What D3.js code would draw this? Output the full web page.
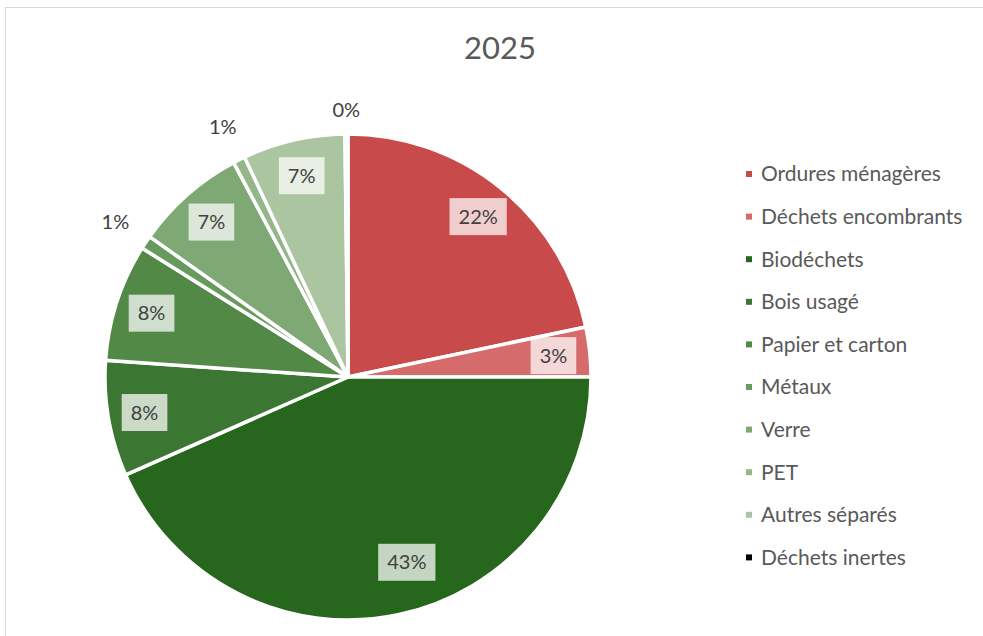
<!DOCTYPE html>
<html>
<head>
<meta charset="utf-8">
<script src="https://cdn.jsdelivr.net/npm/d3@7"></script>
<style>
  body { margin: 0; background: #fff; }
  text { font-family: Lato, "Open Sans", sans-serif; }
</style>
</head>
<body>
<svg id="chart" width="983" height="636"></svg>
<script>
    // données (parts en %)
    const categories = ["Ordures ménagères", "Déchets encombrants", "Biodéchets", "Bois usagé",
        "Papier et carton", "Métaux", "Verre", "PET", "Autres séparés", "Déchets inertes"];
    const values = [21.7, 3.3, 43.4, 7.7, 7.8, 0.9, 7.4, 0.8, 6.8, 0.2];
    const labels = ["22%", "3%", "43%", "8%", "8%", "1%", "7%", "1%", "7%", "0%"];
    const colors = ["#c84a4a", "#d66b6b", "#27661d", "#3b7733", "#528946", "#699a5d",
        "#7ea874", "#94b78a", "#aac5a0", "#000000"];
    const title = "2025";

    const width = 983, height = 636;
    const cx = 348, cy = 377, radius = 243;

    const svg = d3.select("#chart");

    // cadre du graphique
    svg.append("rect")
        .attr("x", 5.5).attr("y", 7.5)
        .attr("width", width + 10).attr("height", height + 10)
        .attr("fill", "none")
        .attr("stroke", "#d9d9d9");

    svg.append("text")
        .attr("x", 500).attr("y", 59)
        .attr("text-anchor", "middle")
        .attr("font-size", 31)
        .attr("fill", "#595959")
        .text(title);

    const data = categories.map((c, i) => ({name: c, value: values[i], label: labels[i], color: colors[i]}));

    const pie = d3.pie().sort(null).value(d => d.value);
    const arcs = pie(data);
    const arc = d3.arc().innerRadius(0).outerRadius(radius);

    const g = svg.append("g").attr("transform", `translate(${cx},${cy})`);

    g.selectAll("path")
        .data(arcs)
        .join("path")
        .attr("d", arc)
        .attr("fill", d => d.data.color)
        .attr("stroke", "#fff")
        .attr("stroke-width", 3.5)
        .attr("stroke-linejoin", "round");

    // étiquettes : dans la part avec un fond clair, ou à l'extérieur pour les petites parts
    const lab = g.selectAll("g.lab")
        .data(arcs)
        .join("g")
        .attr("class", "lab")
        .attr("transform", d => {
            let a = (d.startAngle + d.endAngle) / 2;
            const small = d.data.value < 2;
            let k = small ? 1.15 : 0.85;
            if (d.data.value > 30) { k = 0.8; a -= 0.1; }
            if (d.data.value < 0.5) k = 1.1;
            return `translate(${Math.sin(a) * radius * k},${-Math.cos(a) * radius * k})`;
        });

    lab.each(function(d) {
        const s = d3.select(this);
        const small = d.data.value < 2;
        const t = s.append("text")
            .attr("text-anchor", "middle")
            .attr("dy", "0.35em")
            .attr("font-size", 20)
            .attr("fill", "#404040")
            .text(d.data.label);
        if (!small) {
            const b = t.node().getBBox();
            s.insert("rect", "text")
                .attr("x", b.x - 9).attr("y", -18.5)
                .attr("width", b.width + 18).attr("height", 37)
                .attr("fill", "#fff")
                .attr("fill-opacity", 0.73);
        }
    });

    // légende
    const legend = svg.append("g").attr("transform", "translate(746,174)");
    const row = legend.selectAll("g")
        .data(data)
        .join("g")
        .attr("transform", (d, i) => `translate(0,${i * 42.6})`);
    row.append("rect")
        .attr("x", 0).attr("y", -3)
        .attr("width", 6).attr("height", 6)
        .attr("fill", d => d.color);
    row.append("text")
        .attr("x", 15)
        .attr("dy", "0.35em")
        .attr("font-size", 21)
        .attr("fill", "#595959")
        .text(d => d.name);
</script>
</body>
</html>
